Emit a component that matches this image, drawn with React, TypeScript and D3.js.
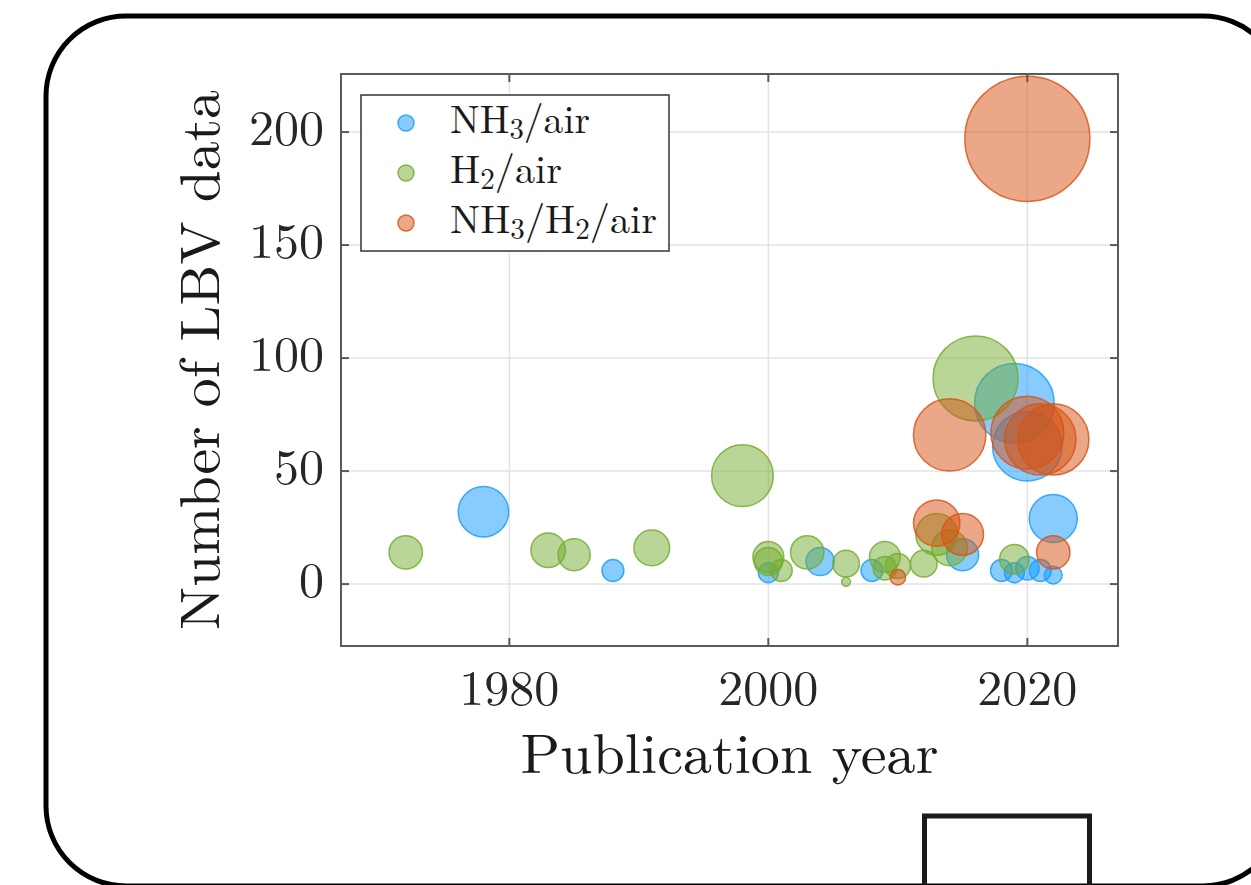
import React from "react";
import * as d3 from "d3";

const nh3Years = [1978, 1988, 2000, 2004, 2008, 2015, 2018, 2019, 2019, 2020, 2020, 2021, 2022, 2022];
const nh3Values = [32, 6, 5, 10, 6, 13, 6, 5, 80, 61, 7, 6, 4, 29];

const h2Years = [1972, 1983, 1985, 1991, 1998, 2000, 2000, 2001, 2003, 2006, 2006, 2009, 2009, 2010, 2012, 2013, 2014, 2016, 2019];
const h2Values = [14, 15, 13, 16, 48, 12, 10, 6, 14, 9, 1, 12, 7, 8, 9, 22, 16, 91, 11];

const mixYears = [2010, 2013, 2014, 2015, 2020, 2020, 2021, 2022, 2022];
const mixValues = [3, 27, 66, 22, 197, 67, 64, 64, 14];

const xTicks = [1980, 2000, 2020];
const yTicks = [0, 50, 100, 150, 200];

const seriesNames = ["NH3/air", "H2/air", "NH3/H2/air"];

const FONT = "'Latin Modern Roman', 'CMU Serif', 'Liberation Serif', serif";

const series = [
  { years: nh3Years, values: nh3Values, fill: "#1199FF", stroke: "#1E9EF7" },
  { years: h2Years, values: h2Values, fill: "#74AB2F", stroke: "#77AC30" },
  { years: mixYears, values: mixValues, fill: "#D55111", stroke: "#D95319" },
];

export default function App() {
  const W = 1251, H = 885;
  const L = 341, R = 1118, T = 74, B = 646;
  const x = d3.scaleLinear().domain([1967, 2027]).range([L, R]);
  const y = d3.scaleLinear().domain([-27.4, 225.7]).range([B, T]);
  const r = d3.scaleSqrt().domain([0, 200]).range([0, 63]);
  const axisColor = "#5a5a5a";
  const tickLen = 8;

  const legendLabel = (i: number) => {
    if (i === 0)
      return (
        <>
          <tspan>NH</tspan>
          <tspan fontSize={29} dy={6}>3</tspan>
          <tspan dy={-6}>/air</tspan>
        </>
      );
    if (i === 1)
      return (
        <>
          <tspan>H</tspan>
          <tspan fontSize={29} dy={6}>2</tspan>
          <tspan dy={-6}>/air</tspan>
        </>
      );
    return (
      <>
        <tspan>NH</tspan>
        <tspan fontSize={29} dy={6}>3</tspan>
        <tspan dy={-6}>/H</tspan>
        <tspan fontSize={29} dy={6}>2</tspan>
        <tspan dy={-6}>/air</tspan>
      </>
    );
  };
  const legendWidths = [140, 112, 207];

  return (
    <svg
      width={W}
      height={H}
      style={{ position: "absolute", left: 0, top: 0, background: "#fff" }}
      fontFamily={FONT}
    >
      <rect x={0} y={0} width={W} height={H} fill="#fff" />
      {/* outer rounded frame */}
      <rect x={46} y={16} width={1237} height={870} rx={80} ry={80} fill="none" stroke="#000" strokeWidth={5} />
      {/* small rectangle */}
      <rect x={924.5} y={816} width={165} height={120} fill="none" stroke="#1a1a1a" strokeWidth={5} />

      {/* axes background */}
      <rect x={L} y={T} width={R - L} height={B - T} fill="#fff" />
      {/* grid */}
      {xTicks.map((t) => (
        <line key={"gx" + t} x1={x(t)} x2={x(t)} y1={T} y2={B} stroke="#e3e3e3" strokeWidth={1.5} />
      ))}
      {yTicks.map((t) => (
        <line key={"gy" + t} x1={L} x2={R} y1={y(t)} y2={y(t)} stroke="#e3e3e3" strokeWidth={1.5} />
      ))}

      {/* bubbles */}
      {series.map((s, si) => (
        <g key={"s" + si}>
          {s.years.map((yr, i) => (
            <circle
              key={i}
              cx={x(yr)}
              cy={y(s.values[i])}
              r={r(s.values[i])}
              fill={s.fill}
              fillOpacity={0.5}
              stroke={s.stroke}
              strokeOpacity={0.85}
              strokeWidth={1.5}
            />
          ))}
        </g>
      ))}

      {/* axes box */}
      <rect x={L} y={T} width={R - L} height={B - T} fill="none" stroke={axisColor} strokeWidth={2} />
      {xTicks.map((t) => (
        <g key={"tx" + t}>
          <line x1={x(t)} x2={x(t)} y1={B} y2={B - tickLen} stroke={axisColor} strokeWidth={2} />
          <line x1={x(t)} x2={x(t)} y1={T} y2={T + tickLen} stroke={axisColor} strokeWidth={2} />
          <text x={x(t)} y={705} textAnchor="middle" fontSize={50} fill="#262626">
            {t}
          </text>
        </g>
      ))}
      {yTicks.map((t) => (
        <g key={"ty" + t}>
          <line x1={L} x2={L + tickLen} y1={y(t)} y2={y(t)} stroke={axisColor} strokeWidth={2} />
          <line x1={R} x2={R - tickLen} y1={y(t)} y2={y(t)} stroke={axisColor} strokeWidth={2} />
          <text x={324} y={y(t) + 13} textAnchor="end" fontSize={50} fill="#262626">
            {t}
          </text>
        </g>
      ))}

      {/* axis labels */}
      <text
        x={(L + R) / 2}
        y={773}
        textAnchor="middle"
        fontSize={56}
        fill="#1a1a1a"
        textLength={418}
        lengthAdjust="spacingAndGlyphs"
      >
        Publication year
      </text>
      <text
        transform={`translate(219, ${(T + B) / 2}) rotate(-90)`}
        textAnchor="middle"
        fontSize={56}
        fill="#1a1a1a"
        textLength={540}
        lengthAdjust="spacingAndGlyphs"
      >
        Number of LBV data
      </text>

      {/* legend */}
      <rect x={361} y={95} width={308} height={156} fill="#fff" stroke="#333" strokeWidth={1.5} />
      {series.map((s, i) => (
        <g key={"lg" + i}>
          <circle
            cx={406}
            cy={123 + i * 50}
            r={8}
            fill={s.fill}
            fillOpacity={0.5}
            stroke={s.stroke}
            strokeOpacity={0.85}
            strokeWidth={1.5}
          />
          <text
            x={450}
            y={133 + i * 50}
            fontSize={40}
            fill="#1a1a1a"
            textLength={legendWidths[i]}
            lengthAdjust="spacingAndGlyphs"
            aria-label={seriesNames[i]}
          >
            {legendLabel(i)}
          </text>
        </g>
      ))}
    </svg>
  );
}
